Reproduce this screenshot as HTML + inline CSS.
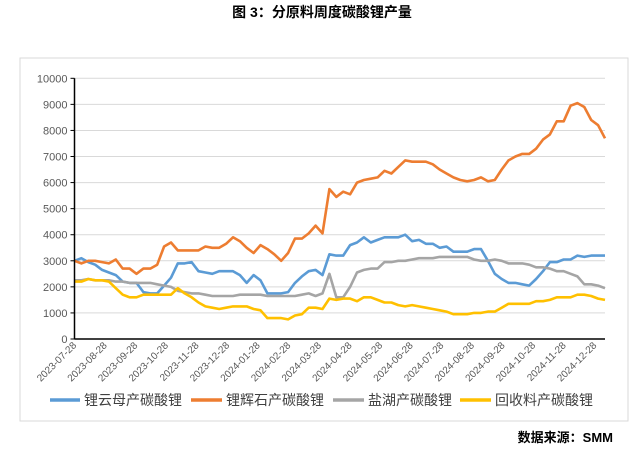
<!DOCTYPE html>
<html><head><meta charset="utf-8"><style>
body{margin:0;background:#fff;width:639px;height:450px;overflow:hidden;font-family:"Liberation Sans","Noto Sans CJK SC",sans-serif;}
</style></head><body>
<svg id="c" width="639" height="450" xmlns="http://www.w3.org/2000/svg">
<text x="322" y="17" text-anchor="middle" font-size="14" font-weight="bold" font-family="'Liberation Sans','Noto Sans CJK SC',sans-serif">图 3：分原料周度碳酸锂产量</text>
<rect x="20" y="58" width="608" height="363" fill="none" stroke="#d9d9d9"/>
<g id="grid"></g><g id="series"></g><g id="axes"></g>
<g font-size="14" fill="#404040" font-family="'Liberation Sans','Noto Sans CJK SC',sans-serif">
<line x1="50" y1="400" x2="80" y2="400" stroke="#5b9bd5" stroke-width="3.5"/>
<text x="84" y="405">锂云母产碳酸锂</text>
<line x1="191" y1="400" x2="222" y2="400" stroke="#ed7d31" stroke-width="3.5"/>
<text x="226" y="405">锂辉石产碳酸锂</text>
<line x1="333" y1="400" x2="364" y2="400" stroke="#a5a5a5" stroke-width="3.5"/>
<text x="368" y="405">盐湖产碳酸锂</text>
<line x1="460" y1="400" x2="491" y2="400" stroke="#ffc000" stroke-width="3.5"/>
<text x="495" y="405">回收料产碳酸锂</text>
</g>
<text x="613" y="442" text-anchor="end" font-size="13" font-weight="bold" font-family="'Liberation Sans','Noto Sans CJK SC',sans-serif">数据来源：SMM</text>
</svg>
<script>
const monthLabels=["2023-07-28","2023-08-28","2023-09-28","2023-10-28","2023-11-28","2023-12-28","2024-01-28","2024-02-28","2024-03-28","2024-04-28","2024-05-28","2024-06-28","2024-07-28","2024-08-28","2024-09-28","2024-10-28","2024-11-28","2024-12-28"];
const yTicks=[0,1000,2000,3000,4000,5000,6000,7000,8000,9000,10000];
const spodumene=[3000,2900,3000,3000,2950,2900,3050,2700,2700,2500,2700,2700,2850,3550,3700,3400,3400,3400,3400,3550,3500,3500,3650,3900,3750,3500,3300,3600,3450,3250,3000,3300,3850,3850,4050,4350,4050,5750,5450,5650,5550,6000,6100,6150,6200,6450,6350,6600,6850,6800,6800,6800,6700,6500,6350,6200,6100,6050,6100,6200,6050,6100,6500,6850,7000,7100,7100,7300,7650,7850,8350,8350,8950,9050,8900,8400,8200,7700];
const mica=[3000,3100,2950,2850,2650,2550,2450,2200,2150,2150,1800,1750,1750,2050,2350,2900,2900,2950,2600,2550,2500,2600,2600,2600,2450,2150,2450,2250,1750,1750,1750,1800,2150,2400,2600,2650,2450,3250,3200,3200,3600,3700,3900,3700,3800,3900,3900,3900,4000,3750,3800,3650,3650,3500,3550,3350,3350,3350,3450,3450,3000,2500,2300,2150,2150,2100,2050,2300,2600,2950,2950,3050,3050,3200,3150,3200,3200,3200];
const brine=[2250,2250,2300,2250,2250,2250,2200,2200,2150,2150,2150,2150,2100,2050,2000,1850,1800,1750,1750,1700,1650,1650,1650,1650,1700,1700,1700,1700,1650,1650,1650,1650,1650,1700,1750,1650,1750,2500,1600,1600,2000,2550,2650,2700,2700,2950,2950,3000,3000,3050,3100,3100,3100,3150,3150,3150,3150,3150,3050,3000,3000,3050,3000,2900,2900,2900,2850,2750,2750,2700,2600,2600,2500,2400,2100,2100,2050,1950];
const recycle=[2200,2200,2300,2250,2250,2200,1950,1700,1600,1600,1700,1700,1700,1700,1700,1950,1750,1600,1400,1250,1200,1150,1200,1250,1250,1250,1150,1100,800,800,800,750,900,950,1200,1200,1150,1550,1500,1550,1550,1450,1600,1600,1500,1400,1400,1300,1250,1300,1250,1200,1150,1100,1050,950,950,950,1000,1000,1050,1050,1200,1350,1350,1350,1350,1450,1450,1500,1600,1600,1600,1700,1700,1650,1550,1500];
const NS="http://www.w3.org/2000/svg";
const X0=74.5,X1=605,Y0=339,Y1=78.3,VMAX=10000;
const n=spodumene.length;
function xs(i){return X0+(X1-X0)*i/(n-1);}
function ys(v){return Y0-(Y0-Y1)*v/VMAX;}
function mk(tag,attrs,parent){const e=document.createElementNS(NS,tag);for(const k in attrs)e.setAttribute(k,attrs[k]);parent.appendChild(e);return e;}
const grid=document.getElementById('grid'),axes=document.getElementById('axes'),ser=document.getElementById('series');
yTicks.forEach(t=>{
  if(t>0){const g=mk('line',{x1:X0,x2:X1,y1:ys(t),y2:ys(t),stroke:'#d9d9d9','stroke-width':1},grid);
  
  }
  const tk=mk('line',{x1:X0-4,x2:X0,y1:ys(t),y2:ys(t),stroke:'#000'},axes);
  
  
  const tx=mk('text',{x:X0-7,y:ys(t)+4,'text-anchor':'end','font-size':11,fill:'#595959'},axes);
  tx.textContent=t;
  
  
});
const ya=mk('line',{x1:X0,x2:X0,y1:Y1,y2:Y0,stroke:'#000','stroke-width':1.5},axes);


const xa=mk('line',{x1:X0,x2:X1,y1:Y0,y2:Y0,stroke:'#000','stroke-width':1.5},axes);


monthLabels.forEach((l,k)=>{
  const x=77+k*30.6,y=346;
  const t=mk('text',{x:x,y:y,'text-anchor':'end','font-size':10,fill:'#595959',transform:`rotate(-45 ${x} ${y})`},axes);
  t.textContent=l;
  
  
});
[[mica,'#5b9bd5','series-mica'],[spodumene,'#ed7d31','series-spodumene'],[brine,'#a5a5a5','series-brine'],[recycle,'#ffc000','series-recycle']].forEach(([d,c,nm])=>{
  const p=mk('polyline',{points:d.map((v,i)=>xs(i).toFixed(1)+','+ys(v).toFixed(1)).join(' '),fill:'none',stroke:c,'stroke-width':2.6,'stroke-linejoin':'round'},ser);
  
  
});
</script>
</body></html>
